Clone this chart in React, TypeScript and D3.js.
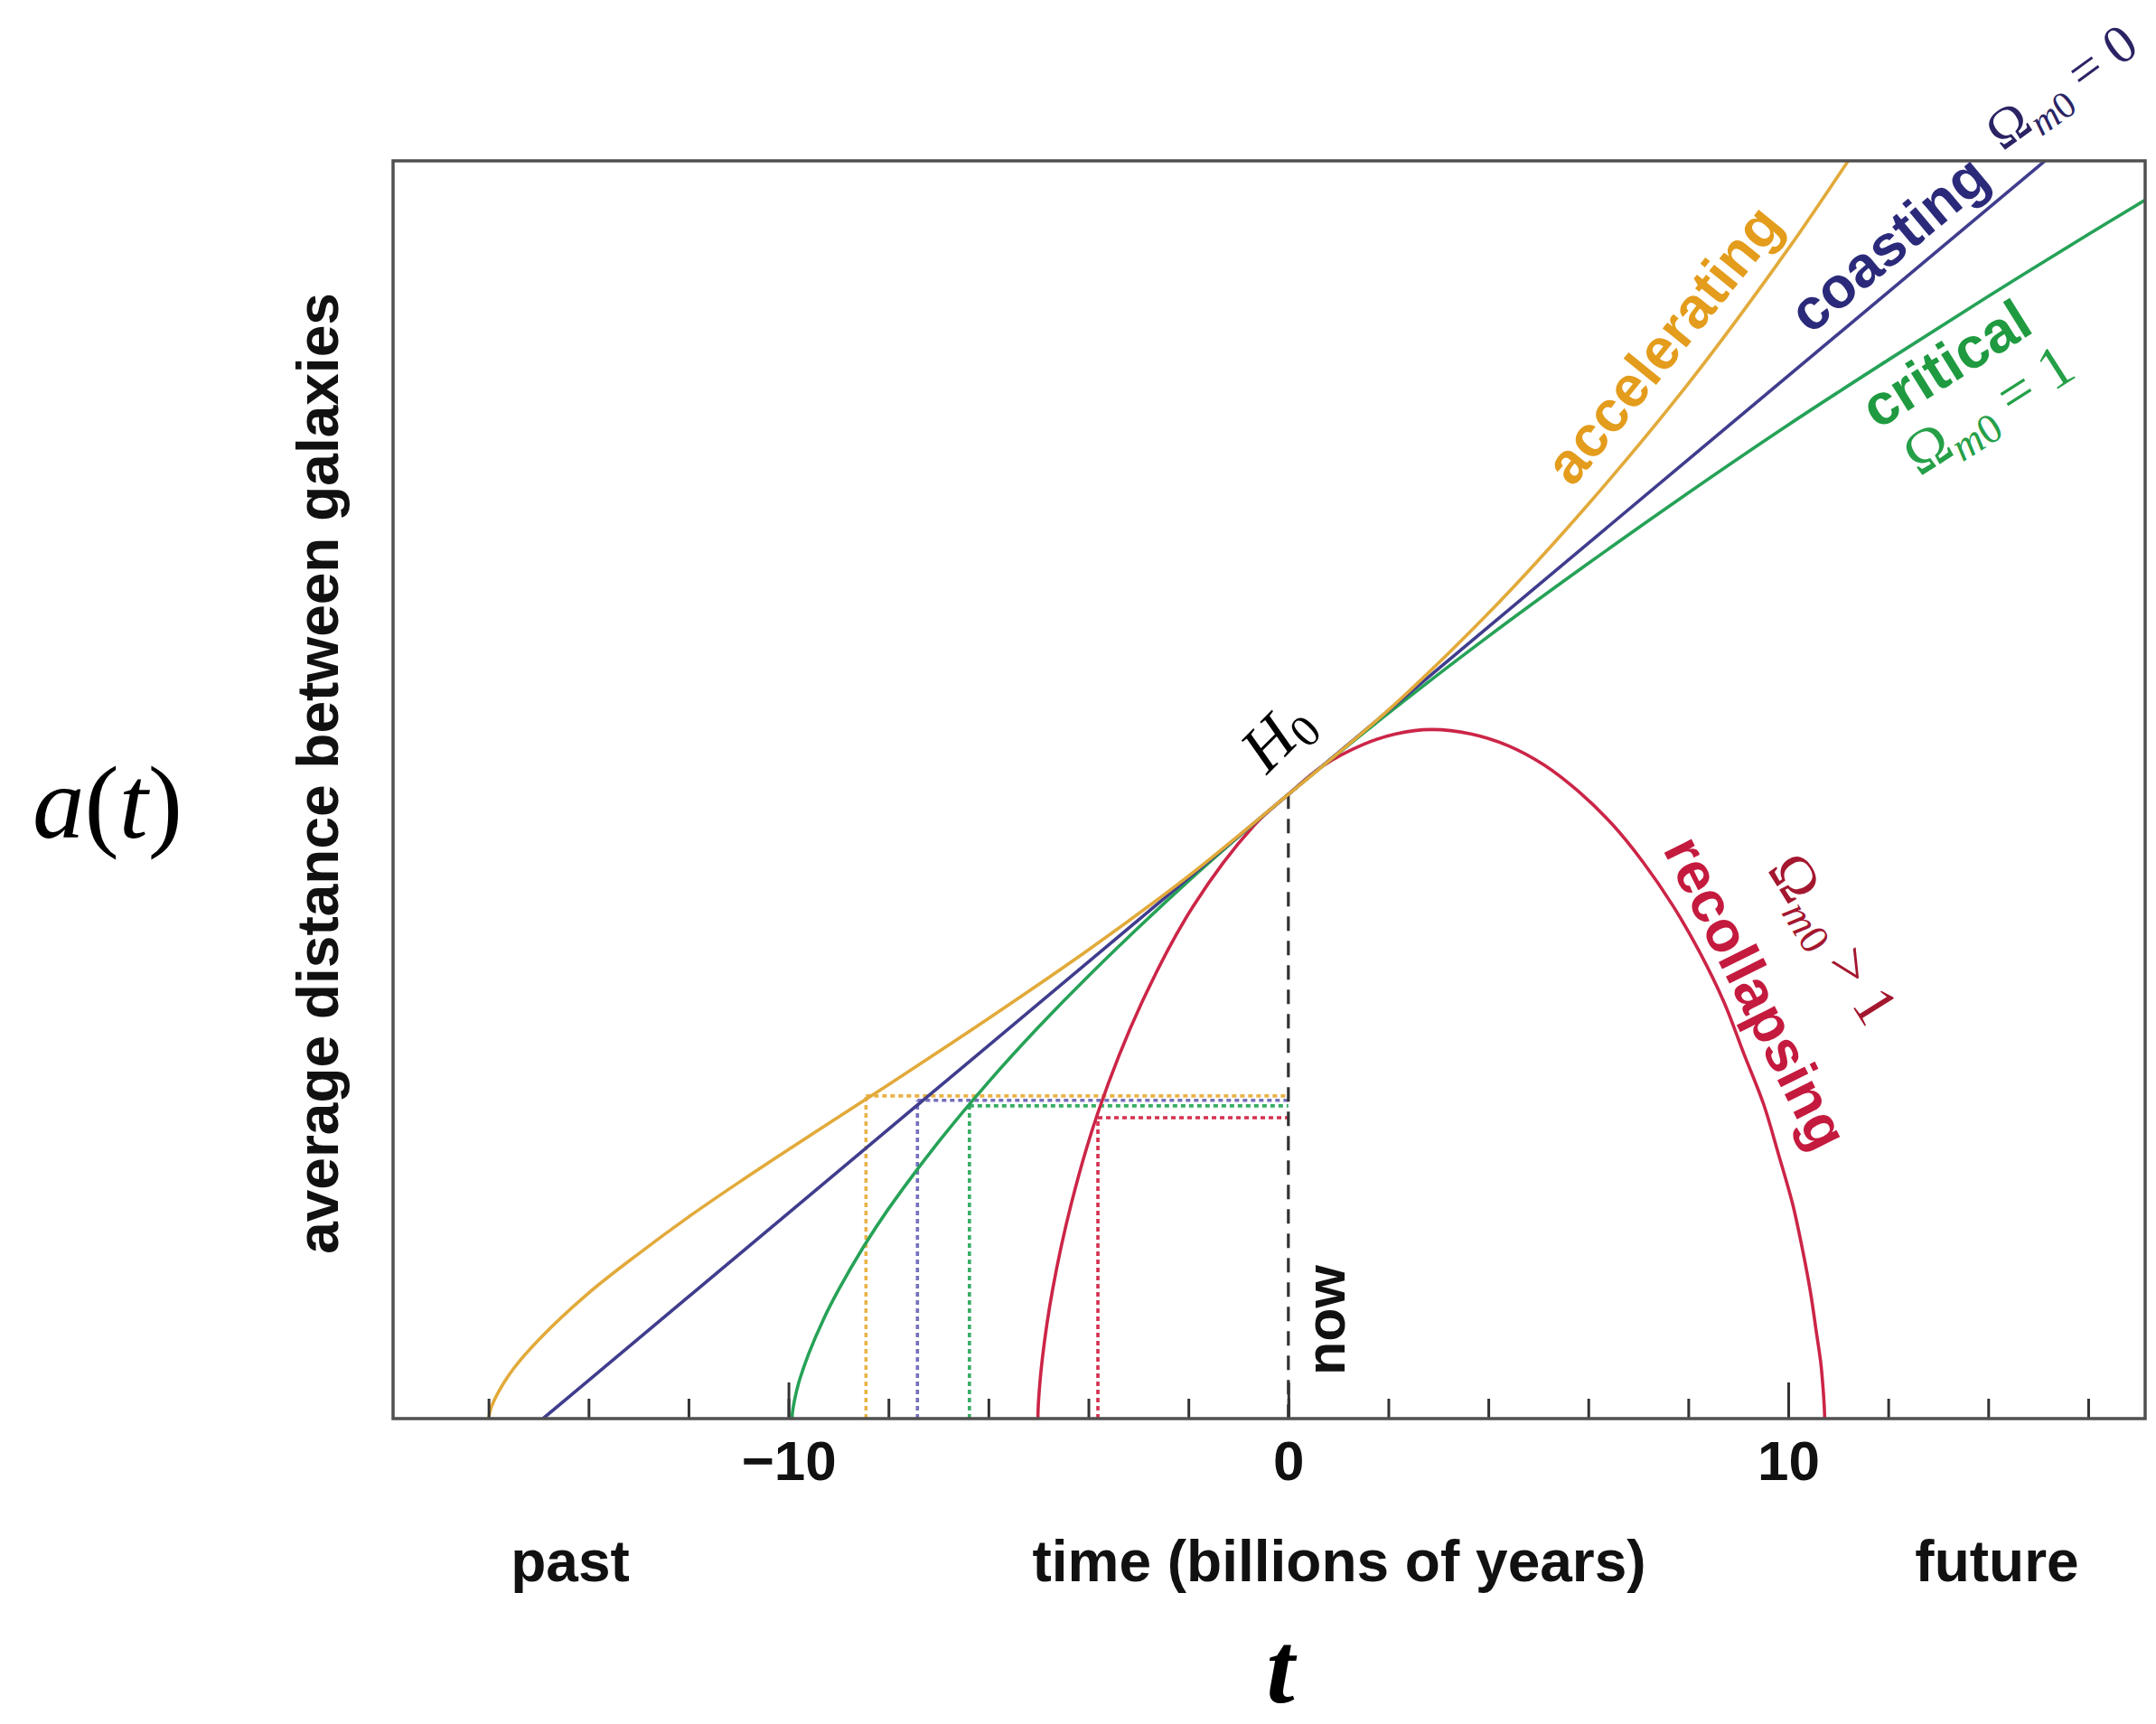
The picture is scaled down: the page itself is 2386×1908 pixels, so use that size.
import React, { useEffect, useRef } from "react";
import * as d3 from "d3";

// time axis, billions of years (ticks every 2, labels on -10, 0, 10)
const minorTicks = [-16, -14, -12, -10, -8, -6, -4, -2, 0, 2, 4, 6, 8, 10, 12, 14, 16];
const majorTicks = [-10, 0, 10];

// a(t), scaled so that a = 1 now (t = 0)
const accelerating: [number, number][] = [
  [-16.0, 0], [-15.95, 0.017], [-15.8, 0.043], [-15.5, 0.08], [-15.0, 0.126],
  [-14.0, 0.201], [-13.0, 0.264], [-12.0, 0.323], [-11.0, 0.378], [-10.0, 0.431],
  [-9.0, 0.483], [-8.0, 0.535], [-6.0, 0.641], [-4.0, 0.751], [-2.0, 0.869],
  [0, 1.0], [2.0, 1.135], [4.0, 1.29], [6.0, 1.465], [8.0, 1.658], [10.0, 1.874], [11.2, 2.015],
];
const coasting: [number, number][] = [[-14.91, 0], [0, 1], [15.3, 2.026]];
const critical: [number, number][] = [
  [-9.93, 0], [-9.92, 0.01], [-9.88, 0.029], [-9.8, 0.056], [-9.6, 0.103], [-9.3, 0.159],
  [-9.0, 0.206], [-8.5, 0.275], [-8.0, 0.336], [-7.0, 0.443], [-6.0, 0.539], [-5.0, 0.627],
  [-4.0, 0.709], [-2.0, 0.861], [0, 1.0], [2, 1.13], [4, 1.253], [6, 1.37], [8, 1.483],
  [10, 1.592], [12, 1.696], [14, 1.798], [16, 1.897], [17.2, 1.955],
];
const recollapsing: [number, number][] = [
  [-5.01, 0], [-5.0, 0.025], [-4.92, 0.097], [-4.72, 0.205], [-4.34, 0.345], [-3.81, 0.49],
  [-2.94, 0.665], [-1.91, 0.82], [-0.69, 0.95], [0, 1.0], [0.68, 1.045], [1.5, 1.08],
  [2.15, 1.097], [2.86, 1.104], [3.65, 1.097], [4.4, 1.078], [5.12, 1.047], [5.8, 1.005],
  [6.48, 0.952], [7.1, 0.891], [7.69, 0.822], [8.21, 0.75], [8.71, 0.668], [9.11, 0.585],
  [9.51, 0.503], [9.8, 0.425], [10.09, 0.343], [10.3, 0.265], [10.45, 0.2], [10.56, 0.14],
  [10.65, 0.09], [10.7, 0.045], [10.72, 0.02], [10.73, 0],
];

// look-back markers: accelerating, coasting, critical, recollapsing
const lookbackT = [-8.45, -7.42, -6.38, -3.81];
const lookbackA = [0.517, 0.51, 0.501, 0.482];

const sans = "'Liberation Sans', Arial, Helvetica, sans-serif";
const serif = "'Liberation Serif', 'Times New Roman', Times, serif";

export default function App() {
  const ref = useRef<SVGSVGElement>(null);

  useEffect(() => {
    const svg = d3.select(ref.current);
    svg.selectAll("*").remove();

    // plot box
    const left = 435, right = 2374, top = 178, bottom = 1570;
    const x = d3.scaleLinear().domain([-17.91, 17.14]).range([left, right]);
    const y = d3.scaleLinear().domain([0, 2.015]).range([bottom, top]);

    svg.append("defs").append("clipPath").attr("id", "plotclip")
      .append("rect").attr("x", left).attr("y", top)
      .attr("width", right - left).attr("height", bottom - top);

    const lineColors = ["#e2aa3a", "#403d8e", "#26a257", "#cc2547"];
    const dotColors = ["#eab247", "#7570bb", "#36ad63", "#d5304f"];

    const plot = svg.append("g").attr("clip-path", "url(#plotclip)");

    // dotted look-back lines
    lookbackT.forEach((t, i) => {
      const g = plot.append("g").attr("stroke", dotColors[i]).attr("stroke-width", 3.6)
        .attr("stroke-dasharray", "5 4").attr("fill", "none");
      g.append("line").attr("x1", x(t)).attr("x2", x(t)).attr("y1", y(0)).attr("y2", y(lookbackA[i]));
      g.append("line").attr("x1", x(t)).attr("x2", x(0)).attr("y1", y(lookbackA[i])).attr("y2", y(lookbackA[i]));
    });

    // "now" marker
    plot.append("line").attr("x1", x(0)).attr("x2", x(0)).attr("y1", y(1)).attr("y2", y(0))
      .attr("stroke", "#333").attr("stroke-width", 3.2).attr("stroke-dasharray", "16 11");

    const line = d3.line<[number, number]>()
      .x(d => x(d[0])).y(d => y(d[1]))
      .curve(d3.curveCatmullRom.alpha(0.5));

    [recollapsing, critical, coasting, accelerating].forEach((data, k) => {
      const color = [lineColors[3], lineColors[2], lineColors[1], lineColors[0]][k];
      plot.append("path").datum(data).attr("d", line).attr("fill", "none")
        .attr("stroke", color).attr("stroke-width", 3.6);
    });

    // ticks point inward
    const minorAxis = svg.append("g").attr("transform", `translate(0,${bottom})`)
      .call(d3.axisBottom(x).tickValues(minorTicks).tickSize(-22).tickFormat(() => ""));
    minorAxis.select(".domain").remove();
    minorAxis.selectAll("line").attr("stroke", "#333").attr("stroke-width", 3);

    const majorAxis = svg.append("g").attr("transform", `translate(0,${bottom})`)
      .call(d3.axisBottom(x).tickValues(majorTicks).tickSize(-40).tickPadding(24));
    majorAxis.select(".domain").remove();
    majorAxis.selectAll("line").attr("stroke", "#333").attr("stroke-width", 3);
    majorAxis.selectAll("text").attr("font-size", 62).attr("font-weight", "bold")
      .attr("font-family", sans).attr("fill", "#111");

    // frame
    svg.append("rect").attr("x", left).attr("y", top).attr("width", right - left)
      .attr("height", bottom - top).attr("fill", "none")
      .attr("stroke", "#505050").attr("stroke-width", 3.5);

    // axis captions
    const caption = (txt: string, cx: number) =>
      svg.append("text").attr("x", cx).attr("y", 1750).attr("text-anchor", "middle")
        .attr("font-family", sans).attr("font-weight", "bold").attr("font-size", 64)
        .attr("fill", "#111").text(txt);
    caption("past", 631);
    caption("time (billions of years)", 1482);
    caption("future", 2210);

    svg.append("text").attr("transform", "translate(374,856) rotate(-90)")
      .attr("text-anchor", "middle").attr("font-family", sans).attr("font-weight", "bold")
      .attr("font-size", 64).attr("fill", "#111").text("average distance between galaxies");

    const at = svg.append("text").attr("x", 36).attr("y", 927)
      .attr("font-family", serif).attr("font-size", 115).attr("fill", "#000");
    at.append("tspan").attr("font-style", "italic").text("a");
    at.append("tspan").text("(");
    at.append("tspan").attr("font-style", "italic").text("t");
    at.append("tspan").text(")");

    svg.append("text").attr("x", 1417).attr("y", 1884).attr("text-anchor", "middle")
      .attr("font-family", serif).attr("font-style", "italic").attr("font-weight", "bold")
      .attr("font-size", 112).attr("fill", "#000").text("t");

    // curve names
    const tag = (txt: string, cx: number, cy: number, rot: number, fill: string) =>
      svg.append("text").attr("transform", `translate(${cx},${cy}) rotate(${rot})`)
        .attr("text-anchor", "middle").attr("dy", "0.3em")
        .attr("font-family", sans).attr("font-weight", "bold").attr("font-size", 64)
        .attr("fill", fill).text(txt);
    tag("accelerating", 1843, 383, -51, "#e39c1c");
    tag("coasting", 2092, 272, -40, "#2b2a7a");
    tag("critical", 2155, 405, -32, "#1f9a40");
    tag("recollapsing", 1941, 1100, 63.5, "#c41a3e");

    svg.append("text").attr("transform", `translate(1488,1461) rotate(-90)`)
      .attr("text-anchor", "middle").attr("font-family", sans).attr("font-weight", "bold")
      .attr("font-size", 61).attr("fill", "#111").text("now");

    // density parameter labels
    const omega = (bx: number, by: number, rot: number, rest: string, fill: string, fs = 66) => {
      const t = svg.append("text").attr("transform", `translate(${bx},${by}) rotate(${rot})`)
        .attr("font-family", serif).attr("font-size", fs).attr("fill", fill);
      t.append("tspan").text("Ω");
      t.append("tspan").attr("font-style", "italic").attr("font-size", fs * 0.7).attr("dy", 12).text("m");
      t.append("tspan").attr("font-size", fs * 0.7).text("0");
      t.append("tspan").attr("dy", -12).text(rest);
    };
    omega(2216, 168, -36, " = 0", "#2a2464", 60);
    omega(2124, 528, -32.5, " = 1", "#25a048");
    omega(1955, 962, 58, " > 1", "#a3172f");

    const h0 = svg.append("text").attr("transform", "translate(1402,858) rotate(-45)")
      .attr("font-family", serif).attr("font-size", 72).attr("fill", "#000");
    h0.append("tspan").attr("font-style", "italic").text("H");
    h0.append("tspan").attr("font-size", 50).attr("dy", 12).text("0");
  }, []);

  return (
    <svg
      ref={ref}
      width={2386}
      height={1908}
      style={{ position: "absolute", left: 0, top: 0, display: "block", background: "#fff" }}
    />
  );
}
